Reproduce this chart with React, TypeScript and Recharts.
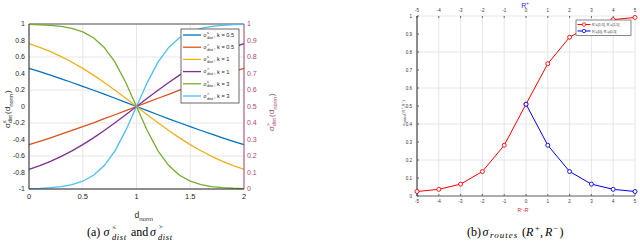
import { LineChart, Line, XAxis, YAxis, CartesianGrid, ReferenceLine } from 'recharts';

// (a) sigma_dist curves at steps of 0.1
const D_NORM = [0, 0.1, 0.2, 0.3, 0.4, 0.5, 0.6, 0.7, 0.8, 0.9, 1, 1.1, 1.2, 1.3, 1.4, 1.5, 1.6, 1.7, 1.8, 1.9, 2];
const LE_K05 = [0.462, 0.422, 0.38, 0.336, 0.291, 0.245, 0.197, 0.149, 0.1, 0.05, 0, -0.05, -0.1, -0.149, -0.197, -0.245, -0.291, -0.336, -0.38, -0.422, -0.462];
const GT_K05 = [0.269, 0.289, 0.31, 0.332, 0.355, 0.378, 0.401, 0.426, 0.45, 0.475, 0.5, 0.525, 0.55, 0.574, 0.599, 0.622, 0.645, 0.668, 0.69, 0.711, 0.731];
const LE_K1 = [0.762, 0.716, 0.664, 0.604, 0.537, 0.462, 0.38, 0.291, 0.197, 0.1, 0, -0.1, -0.197, -0.291, -0.38, -0.462, -0.537, -0.604, -0.664, -0.716, -0.762];
const GT_K1 = [0.119, 0.142, 0.168, 0.198, 0.231, 0.269, 0.31, 0.355, 0.401, 0.45, 0.5, 0.55, 0.599, 0.645, 0.69, 0.731, 0.769, 0.802, 0.832, 0.858, 0.881];
const LE_K3 = [0.995, 0.991, 0.984, 0.97, 0.947, 0.905, 0.834, 0.716, 0.537, 0.291, 0, -0.291, -0.537, -0.716, -0.834, -0.905, -0.947, -0.97, -0.984, -0.991, -0.995];
const GT_K3 = [0.002, 0.004, 0.008, 0.015, 0.027, 0.047, 0.083, 0.142, 0.231, 0.355, 0.5, 0.645, 0.769, 0.858, 0.917, 0.953, 0.973, 0.985, 0.992, 0.996, 0.998];

const LEFT_TICKS = [-1, -0.8, -0.6, -0.4, -0.2, 0, 0.2, 0.4, 0.6, 0.8, 1];
const RIGHT_TICKS = [0, 0.1, 0.2, 0.3, 0.4, 0.5, 0.6, 0.7, 0.8, 0.9, 1];
const D_TICKS = [0, 0.5, 1, 1.5, 2];

// (b) sigma_routes
const R_DIFF = [-5, -4, -3, -2, -1, 0, 1, 2, 3, 4, 5];
const ROUTES_RED = [0.025, 0.037, 0.066, 0.136, 0.282, 0.51, 0.735, 0.882, 0.95, 0.98, 0.992];
const ROUTES_BLUE = [null, null, null, null, null, 0.51, 0.282, 0.136, 0.066, 0.037, 0.025];
const ROUTES_Y_TICKS = [0, 0.1, 0.2, 0.3, 0.4, 0.5, 0.6, 0.7, 0.8, 0.9, 1];

const C = ['#0072BD', '#D95319', '#EDB120', '#7E2F8E', '#77AC30', '#4DBEEE'];
const MAROON = '#a84a72';
const AXIS = '#262626';
const GRID = '#e6e6e6';

const SERIES = [
  { key: 'le05', axis: 'left', sign: '≤', k: '0.5' },
  { key: 'gt05', axis: 'right', sign: '>', k: '0.5' },
  { key: 'le1', axis: 'left', sign: '≤', k: '1' },
  { key: 'gt1', axis: 'right', sign: '>', k: '1' },
  { key: 'le3', axis: 'left', sign: '≤', k: '3' },
  { key: 'gt3', axis: 'right', sign: '>', k: '3' },
];

const distData = D_NORM.map((x, i) => ({
  x,
  le05: LE_K05[i], gt05: GT_K05[i],
  le1: LE_K1[i], gt1: GT_K1[i],
  le3: LE_K3[i], gt3: GT_K3[i],
}));

const routesData = R_DIFF.map((x, i) => ({ x, red: ROUTES_RED[i], blue: ROUTES_BLUE[i] }));

const SANS = '"Liberation Sans", Arial, sans-serif';
const SERIF = '"Liberation Serif", "Times New Roman", serif';

export default function App() {
  return (
    <div style={{ position: 'absolute', left: 0, top: 0, width: 640, height: 242, background: '#fff', overflow: 'hidden' }}>
      {/* (a) */}
      <div style={{ position: 'absolute', left: 0, top: 0 }}>
        <LineChart width={290} height={222} data={distData} margin={{ top: 24, right: 26, bottom: 13, left: 9 }}>
          <CartesianGrid stroke={GRID} yAxisId="left" />
          <XAxis
            dataKey="x" type="number" domain={[0, 2]} ticks={D_TICKS} height={20}
            tickSize={0} tickMargin={5} axisLine={{ stroke: AXIS }}
            tick={{ fontSize: 7.5, fill: AXIS, fontFamily: SANS }}
          />
          <YAxis
            yAxisId="left" domain={[-1, 1]} ticks={LEFT_TICKS} width={20}
            tickSize={0} tickMargin={4} axisLine={{ stroke: AXIS }}
            tick={{ fontSize: 7, fill: AXIS, fontFamily: SANS }}
          />
          <YAxis
            yAxisId="right" orientation="right" domain={[0, 1]} ticks={RIGHT_TICKS} width={20}
            tickSize={0} tickMargin={3} axisLine={{ stroke: MAROON }}
            tick={{ fontSize: 7, fill: MAROON, fontFamily: SANS }}
          />
          <ReferenceLine yAxisId="left" y={1} stroke="#555" />
          {SERIES.map((s, i) => (
            <Line
              key={s.key} yAxisId={s.axis} dataKey={s.key} type="linear"
              stroke={C[i]} strokeWidth={1.3} dot={false} isAnimationActive={false}
            />
          ))}
        </LineChart>
      </div>

      {/* (b) */}
      <div style={{ position: 'absolute', left: 380, top: 0 }}>
        <LineChart width={260} height={222} data={routesData} margin={{ top: 8, right: 5, bottom: 14, left: 17 }}>
          <CartesianGrid stroke={GRID} xAxisId="bottom" />
          <XAxis
            xAxisId="bottom" dataKey="x" type="number" domain={[-5, 5]} ticks={R_DIFF} height={12}
            tickSize={-2} tickMargin={6} axisLine={{ stroke: '#666' }} tickLine={{ stroke: '#666' }}
            tick={{ fontSize: 4.5, fill: '#333', fontFamily: SANS }}
          />
          <XAxis
            xAxisId="top" orientation="top" dataKey="x" type="number" domain={[-5, 5]} ticks={R_DIFF} height={8}
            tickSize={-2} tickMargin={6} axisLine={false} tickLine={{ stroke: '#666' }}
            tick={{ fontSize: 4.5, fill: '#333', fontFamily: SANS }}
          />
          <YAxis
            domain={[0, 1]} ticks={ROUTES_Y_TICKS} width={20}
            tickSize={-2} tickMargin={7} axisLine={{ stroke: AXIS }} tickLine={{ stroke: '#666' }}
            tick={{ fontSize: 4.5, fill: '#333', fontFamily: SANS }}
          />
          <Line
            xAxisId="bottom" dataKey="red" type="linear" stroke="#ff0000" strokeWidth={1}
            dot={{ r: 2, stroke: '#ff0000', strokeWidth: 0.9, fill: '#fff' }} isAnimationActive={false}
          />
          <Line
            xAxisId="bottom" dataKey="blue" type="linear" stroke="#0000ff" strokeWidth={1}
            dot={{ r: 2, stroke: '#0000ff', strokeWidth: 0.9, fill: '#fff' }} isAnimationActive={false}
          />
        </LineChart>
      </div>

      {/* labels, legends and captions */}
      <svg width={640} height={242} style={{ position: 'absolute', left: 0, top: 0, pointerEvents: 'none' }}>
        {/* legend (a) */}
        <rect x={181} y={29} width={58} height={74} fill="#fff" stroke="#444" strokeWidth={0.8} />
        {SERIES.map((s, i) => {
          const cy = 35 + i * 12.2;
          return (
            <g key={s.key} fontFamily={SANS} fill={AXIS}>
              <line x1={183} x2={201} y1={cy} y2={cy} stroke={C[i]} strokeWidth={1.3} />
              <text x={203.5} y={cy + 1.8} fontSize={5}>σ</text>
              <text x={207} y={cy - 1.2} fontSize={3.6}>{s.sign}</text>
              <text x={207} y={cy + 3.6} fontSize={4}>dist</text>
              <text x={214} y={cy + 2} fontSize={5.6}>, k = {s.k}</text>
            </g>
          );
        })}

        {/* y label left (a) */}
        <g transform="translate(10,128) rotate(-90)" fontFamily={SANS} fill={AXIS}>
          <text x={0} y={0} fontSize={8}>σ</text>
          <text x={5} y={-4} fontSize={5}>≤</text>
          <text x={5} y={2} fontSize={5}>dist</text>
          <text x={14} y={0} fontSize={8}>(d</text>
          <text x={21.5} y={2.5} fontSize={5.5}>norm</text>
          <text x={35} y={0} fontSize={8}>)</text>
        </g>
        {/* y label right (a) */}
        <g transform="translate(274,131) rotate(-90)" fontFamily={SANS} fill={MAROON}>
          <text x={0} y={0} fontSize={8}>σ</text>
          <text x={5} y={-4} fontSize={5}>&gt;</text>
          <text x={5} y={2} fontSize={5}>dist</text>
          <text x={14} y={0} fontSize={8}>(d</text>
          <text x={21.5} y={2.5} fontSize={5.5}>norm</text>
          <text x={35} y={0} fontSize={8}>)</text>
        </g>
        {/* x label (a) */}
        <text x={134.5} y={218} fontFamily={SANS} fontSize={8.5} fill={AXIS}>
          d<tspan fontSize={6} dy={3}>norm</tspan>
        </text>

        {/* caption (a) */}
        <g fontFamily={SERIF} fill="#000">
          <text x={87} y={236} fontSize={12}>(a)</text>
          <text x={103.5} y={236} fontSize={12} fontStyle="italic">σ</text>
          <text x={112.5} y={228.5} fontSize={6.5}>≤</text>
          <text x={112} y={239.5} fontSize={8.5} fontStyle="italic" letterSpacing={0.6}>dist</text>
          <text x={131} y={236} fontSize={12}>and</text>
          <text x={150} y={236} fontSize={12} fontStyle="italic">σ</text>
          <text x={159} y={228.5} fontSize={6.5}>&gt;</text>
          <text x={158} y={239.5} fontSize={8.5} fontStyle="italic" letterSpacing={0.6}>dist</text>
        </g>

        {/* legend (b) */}
        <rect x={576} y={20} width={55} height={15.5} fill="#fff" stroke="#555" strokeWidth={0.7} />
        <line x1={577.5} x2={590.5} y1={24.5} y2={24.5} stroke="#ff0000" strokeWidth={1} />
        <circle cx={584} cy={24.5} r={1.7} fill="#fff" stroke="#ff0000" strokeWidth={0.8} />
        <text x={592} y={26} fontSize={3.6} fontFamily={SANS} fill="#333">R⁺=[1:5], R⁻=[1,5]</text>
        <line x1={577.5} x2={590.5} y1={31} y2={31} stroke="#0000ff" strokeWidth={1} />
        <circle cx={584} cy={31} r={1.7} fill="#fff" stroke="#0000ff" strokeWidth={0.8} />
        <text x={592} y={32.5} fontSize={3.6} fontFamily={SANS} fill="#333">R⁺=[0], R⁻=[0,5]</text>

        {/* axis labels (b) */}
        <text x={525} y={7.5} textAnchor="middle" fontSize={7} fontFamily={SANS} fill="#2a2ae0">
          R<tspan fontSize={4.5} dy={-2.5}>+</tspan>
        </text>
        <text x={524} y={212} textAnchor="middle" fontSize={5} fontFamily={SANS} fill="#e02020">
          R⁺-R⁻
        </text>
        <g transform="translate(405,113) rotate(-90)">
          <text x={0} y={0} textAnchor="middle" fontSize={5} fontFamily={SERIF} fill="#333" fontStyle="italic">
            σ<tspan fontSize={3.6} dy={1.2}>routes</tspan><tspan dy={-1.2}>(R⁺,R⁻)</tspan>
          </text>
        </g>

        {/* caption (b) */}
        <g fontFamily={SERIF} fill="#000">
          <text x={467} y={235.5} fontSize={12}>(b)</text>
          <text x={482.5} y={235.5} fontSize={12} fontStyle="italic">σ</text>
          <text x={490} y={237.5} fontSize={9} fontStyle="italic" letterSpacing={1}>routes</text>
          <text x={522} y={235.5} fontSize={12}>(</text>
          <text x={526} y={235.5} fontSize={12} fontStyle="italic">R</text>
          <text x={535} y={231} fontSize={8}>+</text>
          <text x={540} y={235.5} fontSize={12}>,</text>
          <text x={545} y={235.5} fontSize={12} fontStyle="italic">R</text>
          <text x={553.5} y={231} fontSize={8}>−</text>
          <text x={559.5} y={235.5} fontSize={12}>)</text>
        </g>
      </svg>
    </div>
  );
}
